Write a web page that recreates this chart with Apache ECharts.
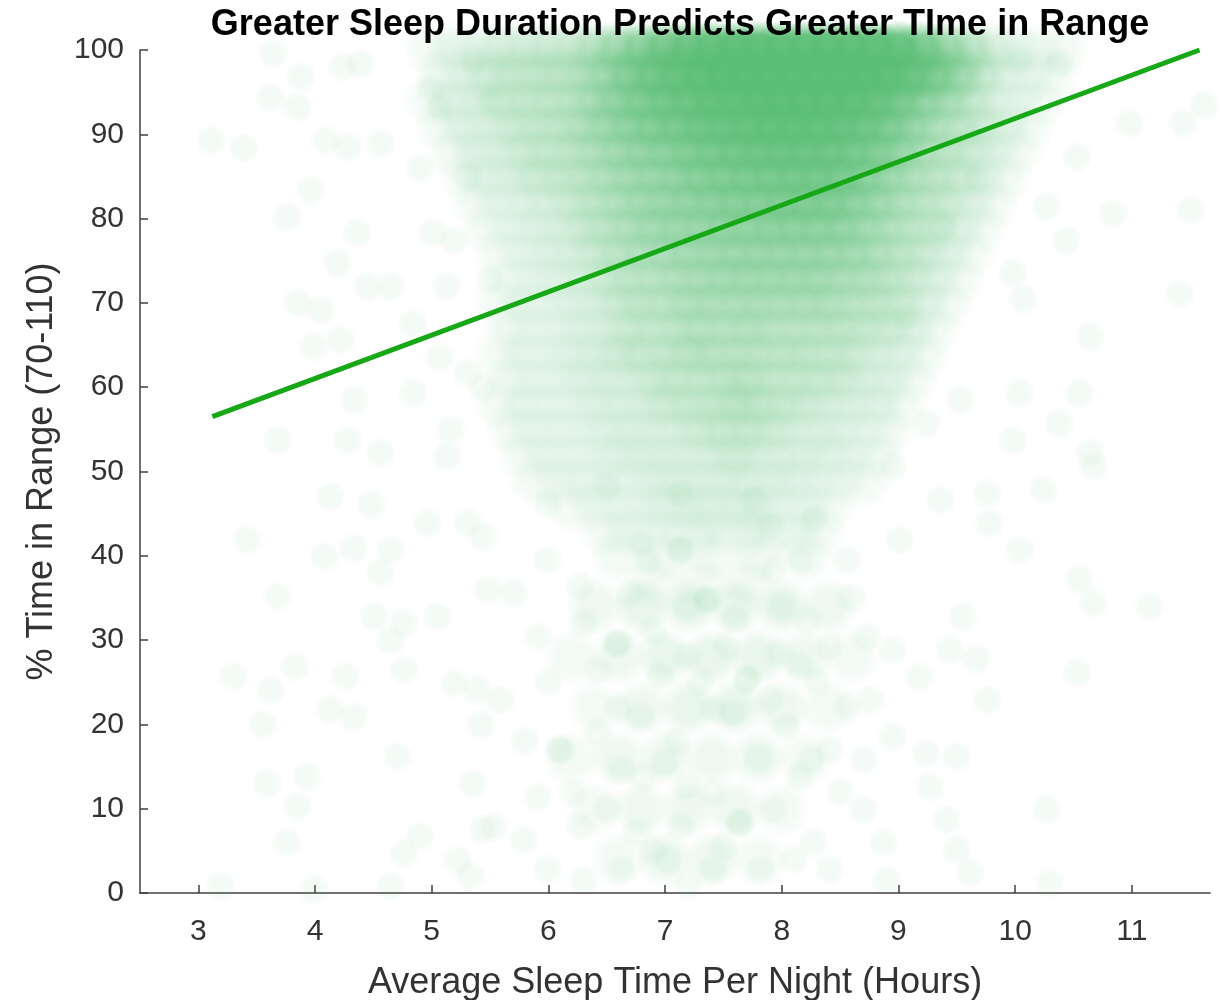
<!DOCTYPE html>
<html><head><meta charset="utf-8">
<script src="https://cdn.jsdelivr.net/npm/echarts@6/dist/echarts.min.js"></script>
<style>html,body{margin:0;padding:0;background:#fff}#chart{width:1221px;height:1000px}</style>
</head><body><div id="chart"></div>
<script>
const titleText = "Greater Sleep Duration Predicts Greater TIme in Range";
const xAxisName = "Average Sleep Time Per Night (Hours)";
const yAxisName = "% Time in Range (70-110)";
const xTickValues = [3, 4, 5, 6, 7, 8, 9, 10, 11];
const yTickValues = [0, 10, 20, 30, 40, 50, 60, 70, 80, 90, 100];

// dense cloud: [hours, % TIR, estimated number of overlapping participants]
const denseCloud = [
[5.0,100,2],[5.2,100,3],[5.4,100,3],[5.6,100,5],[5.8,100,5],[6.0,100,6],[6.2,100,6],[6.4,100,10],[6.6,100,14],[6.8,100,21],[7.0,100,30],[7.2,100,40],[7.4,100,51],[7.6,100,64],[7.8,100,64],[8.0,100,64],[8.2,100,64],[8.4,100,64],[8.6,100,64],[8.8,100,60],[9.0,100,48],[9.2,100,29],[9.4,100,16],[9.6,100,10],[9.8,100,5],[10.0,100,3],[10.2,100,2],[10.4,100,2],
[5.1,97,2],[5.3,97,3],[5.5,97,5],[5.7,97,5],[5.9,97,6],[6.1,97,6],[6.3,97,8],[6.5,97,11],[6.7,97,18],[6.9,97,26],[7.1,97,35],[7.3,97,48],[7.5,97,60],[7.7,97,64],[7.9,97,64],[8.1,97,64],[8.3,97,64],[8.5,97,64],[8.7,97,60],[8.9,97,51],[9.1,97,35],[9.3,97,21],[9.5,97,13],[9.7,97,6],[9.9,97,3],[10.1,97,2],[10.3,97,2],
[5.0,94,2],[5.2,94,3],[5.4,94,3],[5.6,94,5],[5.8,94,5],[6.0,94,6],[6.2,94,6],[6.4,94,10],[6.6,94,14],[6.8,94,19],[7.0,94,24],[7.2,94,30],[7.4,94,38],[7.6,94,45],[7.8,94,51],[8.0,94,54],[8.2,94,54],[8.4,94,51],[8.6,94,45],[8.8,94,35],[9.0,94,22],[9.2,94,14],[9.4,94,10],[9.6,94,6],[9.8,94,3],[10.0,94,2],[10.2,94,2],
[5.1,91,2],[5.3,91,3],[5.5,91,3],[5.7,91,5],[5.9,91,5],[6.1,91,6],[6.3,91,8],[6.5,91,11],[6.7,91,14],[6.9,91,18],[7.1,91,21],[7.3,91,26],[7.5,91,30],[7.7,91,35],[7.9,91,38],[8.1,91,40],[8.3,91,38],[8.5,91,34],[8.7,91,27],[8.9,91,19],[9.1,91,13],[9.3,91,8],[9.5,91,6],[9.7,91,5],[9.9,91,3],[10.1,91,2],
[5.2,88,2],[5.4,88,3],[5.6,88,3],[5.8,88,5],[6.0,88,5],[6.2,88,6],[6.4,88,8],[6.6,88,10],[6.8,88,13],[7.0,88,14],[7.2,88,18],[7.4,88,21],[7.6,88,24],[7.8,88,27],[8.0,88,29],[8.2,88,29],[8.4,88,27],[8.6,88,22],[8.8,88,18],[9.0,88,13],[9.2,88,8],[9.4,88,6],[9.6,88,5],[9.8,88,3],[10.0,88,2],
[5.3,85,2],[5.5,85,3],[5.7,85,3],[5.9,85,5],[6.1,85,5],[6.3,85,6],[6.5,85,8],[6.7,85,10],[6.9,85,11],[7.1,85,13],[7.3,85,16],[7.5,85,18],[7.7,85,19],[7.9,85,21],[8.1,85,22],[8.3,85,22],[8.5,85,21],[8.7,85,16],[8.9,85,11],[9.1,85,8],[9.3,85,6],[9.5,85,5],[9.7,85,3],[9.9,85,2],
[5.4,82,2],[5.6,82,2],[5.8,82,3],[6.0,82,3],[6.2,82,5],[6.4,82,6],[6.6,82,8],[6.8,82,10],[7.0,82,11],[7.2,82,13],[7.4,82,14],[7.6,82,16],[7.8,82,16],[8.0,82,18],[8.2,82,18],[8.4,82,18],[8.6,82,14],[8.8,82,11],[9.0,82,8],[9.2,82,6],[9.4,82,5],[9.6,82,3],[9.8,82,2],
[5.5,79,2],[5.7,79,2],[5.9,79,3],[6.1,79,3],[6.3,79,5],[6.5,79,6],[6.7,79,8],[6.9,79,10],[7.1,79,11],[7.3,79,11],[7.5,79,13],[7.7,79,13],[7.9,79,14],[8.1,79,14],[8.3,79,14],[8.5,79,13],[8.7,79,10],[8.9,79,8],[9.1,79,6],[9.3,79,5],[9.5,79,3],[9.7,79,2],
[5.6,76,2],[5.8,76,2],[6.0,76,3],[6.2,76,3],[6.4,76,5],[6.6,76,6],[6.8,76,8],[7.0,76,8],[7.2,76,10],[7.4,76,10],[7.6,76,11],[7.8,76,11],[8.0,76,11],[8.2,76,11],[8.4,76,11],[8.6,76,10],[8.8,76,8],[9.0,76,6],[9.2,76,5],[9.4,76,3],[9.6,76,2],
[5.7,73,2],[5.9,73,2],[6.1,73,3],[6.3,73,3],[6.5,73,5],[6.7,73,6],[6.9,73,6],[7.1,73,8],[7.3,73,8],[7.5,73,10],[7.7,73,10],[7.9,73,10],[8.1,73,10],[8.3,73,10],[8.5,73,8],[8.7,73,8],[8.9,73,6],[9.1,73,5],[9.3,73,3],[9.5,73,2],
[5.6,70,2],[5.8,70,2],[6.0,70,2],[6.2,70,3],[6.4,70,3],[6.6,70,5],[6.8,70,6],[7.0,70,6],[7.2,70,8],[7.4,70,8],[7.6,70,8],[7.8,70,8],[8.0,70,8],[8.2,70,8],[8.4,70,8],[8.6,70,6],[8.8,70,6],[9.0,70,5],[9.2,70,3],[9.4,70,2],
[5.7,67,2],[5.9,67,2],[6.1,67,2],[6.3,67,3],[6.5,67,3],[6.7,67,5],[6.9,67,5],[7.1,67,6],[7.3,67,7],[7.5,67,6],[7.7,67,8],[7.9,67,6],[8.1,67,6],[8.3,67,6],[8.5,67,6],[8.7,67,5],[8.9,67,5],[9.1,67,3],[9.3,67,2],
[5.6,64,2],[5.8,64,2],[6.0,64,2],[6.2,64,3],[6.4,64,3],[6.6,64,5],[6.8,64,5],[7.0,64,5],[7.2,64,7],[7.4,64,7],[7.6,64,6],[7.8,64,6],[8.0,64,6],[8.2,64,6],[8.4,64,5],[8.6,64,5],[8.8,64,3],[9.0,64,3],[9.2,64,2],
[5.7,61,2],[5.9,61,2],[6.1,61,2],[6.3,61,3],[6.5,61,3],[6.7,61,3],[6.9,61,5],[7.1,61,5],[7.3,61,5],[7.5,61,6],[7.7,61,7],[7.9,61,5],[8.1,61,5],[8.3,61,5],[8.5,61,5],[8.7,61,3],[8.9,61,3],[9.1,61,2],
[5.6,58,2],[5.8,58,2],[6.0,58,2],[6.2,58,2],[6.4,58,3],[6.6,58,3],[6.8,58,3],[7.0,58,5],[7.2,58,5],[7.4,58,5],[7.6,58,7],[7.8,58,6],[8.0,58,5],[8.2,58,5],[8.4,58,3],[8.6,58,3],[8.8,58,3],[9.0,58,2],
[5.7,55,2],[5.9,55,2],[6.1,55,2],[6.3,55,2],[6.5,55,3],[6.7,55,3],[6.9,55,3],[7.1,55,3],[7.3,55,5],[7.5,55,5],[7.7,55,5],[7.9,55,5],[8.1,55,3],[8.3,55,3],[8.5,55,3],[8.7,55,2],[8.9,55,2],
[5.8,52,2],[6.0,52,2],[6.2,52,2],[6.4,52,2],[6.6,52,3],[6.8,52,3],[7.0,52,3],[7.2,52,3],[7.4,52,3],[7.6,52,5],[7.8,52,3],[8.0,52,3],[8.2,52,3],[8.4,52,3],[8.6,52,2],[8.8,52,2],
[5.9,49,2],[6.1,49,2],[6.3,49,2],[6.5,49,2],[6.7,49,2],[6.9,49,3],[7.1,49,3],[7.3,49,3],[7.5,49,3],[7.7,49,3],[7.9,49,3],[8.1,49,3],[8.3,49,2],[8.5,49,2],[8.7,49,2],
[6.2,46,2],[6.4,46,2],[6.6,46,2],[6.8,46,2],[7.0,46,3],[7.2,46,3],[7.4,46,3],[7.6,46,3],[7.8,46,3],[8.0,46,2],[8.2,46,2],[8.4,46,2],
[6.5,43,2],[6.7,43,2],[6.9,43,2],[7.1,43,2],[7.3,43,3],[7.5,43,2],[7.7,43,3],[7.9,43,2],[8.1,43,2],[8.3,43,2],
[6.6,40,2],[7.0,40,2],[7.4,40,2],[7.8,40,2],[8.2,40,2],
[6.9,37,2],[7.3,37,2],[7.7,37,2],
[6.4,34,3],[6.8,34,4],[7.2,34,4],[7.6,34,4],[8.0,34,4],[8.4,34,3],
[6.2,28,2],[6.6,28,3],[7.0,28,4],[7.4,28,4],[7.8,28,4],[8.2,28,3],[8.6,28,2],
[6.4,22,2],[6.8,22,3],[7.2,22,4],[7.6,22,4],[8.0,22,3],[8.4,22,2],
[6.2,16,2],[6.6,16,3],[7.0,16,3],[7.4,16,3],[7.8,16,3],[8.2,16,2],
[6.4,10,2],[6.8,10,3],[7.2,10,3],[7.6,10,3],[8.0,10,2],
[6.6,4,2],[7.0,4,3],[7.4,4,3],[7.8,4,2]
];

// individually visible participants: [hours, % TIR] (optional third value = overlaps)
const sparsePoints = [
[3.64,99.6],[3.88,96.8],[3.62,94.4],[3.85,93.2],[3.11,89.3],[3.39,88.4],[4.09,89.3],[4.28,88.5],[4.56,88.9],[4.24,98],[4.39,98.4],[4.99,95.3],[5.07,93.2],[5.31,85],[4.9,86],[3.96,83.4],[3.76,80.2],[4.36,78.3],[4.19,74.7],[4.45,71.9],[4.65,71.9],[3.85,70],[4.05,69.1],[3.99,64.8],[4.22,65.6],[4.84,67.6],[5.13,71.9],[5.07,63.6],[5.31,61.7],[5.5,72.7],[5.01,78.3],[5.19,77.4],[3.68,53.7],[4.28,53.7],[4.56,52.2],[4.84,59.3],[4.33,58.5],[5.16,54.9],[5.44,60],[5.13,51.8],[5.36,98.8],[5.5,94],
[3.42,41.9],[3.68,35.2],[4.13,47],[4.48,46],[4.08,39.9],[4.33,40.9],[4.65,40.7],[4.56,38],[4.96,43.9],[5.31,43.9],[5.44,42.3],[5.48,36],[4.51,32.8],[4.76,32],[5.05,32.8],[4.65,30],[4.76,26.5],[3.3,25.7],[3.62,24.1],[3.83,26.8],[4.26,25.7],[4.13,21.8],[4.33,20.9],[3.55,20],[5.19,24.9],[5.39,24.1],[5.42,20],[4.71,16.2],[3.59,13],[3.93,13.8],[3.85,10.3],[3.76,6],[5.35,13],[4.9,6.7],[4.76,4.7],[5.22,3.9],[5.44,7.5],[3.19,0.8],[4.65,0.8],[3.99,0.4],[5.33,2],
[8.95,50.6],[9.76,47.4],[10.24,47.8],[10.67,50.6],[9.36,46.6],[9.01,41.9],[9.78,43.9],[10.04,40.7],[10.55,37.2],[10.67,34.4],[11.15,34],[9.55,32.8],[9.44,28.8],[9.67,27.7],[9.18,25.7],[8.95,28.8],[9.76,22.9],[10.53,26.1],[9.24,16.6],[9.5,16.2],[9.27,12.6],[9.41,8.7],[10.27,9.9],[9.5,5.1],[9.61,2.4],[10.3,1.2],[8.87,6],[8.76,22.9],
[10.38,98.4],[10.04,98.8],[10.53,87.3],[10.27,81.4],[10.84,80.6],[11.5,81],[10.44,77.4],[10.98,91.3],[11.44,91.3],[11.62,93.5],[11.41,71.1],[10.64,66],[10.55,59.3],[10.04,59.3],[10.38,55.7],[9.98,53.7],[10.64,52.2],[9.67,84.6],[10.07,70.4],[9.98,73.5],[9.38,79],[9.53,58.5],[9.07,68.4],[9.24,55.7],
[5.91,30.4],[6.1,17,2],[6.27,7.9],[6.59,29.6,2],[6.79,41.5],[7.13,40.7,2],[7.19,34],[7.36,34.8,2],[7.7,25.3,2],[7.58,21.4],[8.22,32.4],[8.56,22.1],[8.25,15.8],[7.64,8.3,2],[7.13,7.9],[6.81,13.8],[5.91,11.4],[5.53,7.9],[5.59,22.9],[8.7,9.9],[8.27,6],[6.62,2.8],[7.82,2.8],[7.41,2.8],[8.16,13.8],[7.9,43.5],[7.76,46.6],[8.27,44.3],[7.13,47.4],[6.5,48.2],[5.99,46.2],[5.7,35.6],[6.27,36.4],[6.42,26.5],[6.96,25.7],[7.98,28.5],[8.41,29.3],[8.73,30.4],[6.42,19],[6.62,14.6],[7.19,12.6],[8.41,17],[5.79,6.3],[5.99,2.8],[8.41,2.8],[7.02,3.9],[7.41,11.9],[7.93,9.9],[6.21,11.9],[6.76,7.1],[7.53,29.2],[7.19,28],[7.93,38.3],[8.16,39.5],[8.56,39.5],[6.85,39.5],[5.99,39.5],[7.41,21.8],[6.79,20.9],[8.04,19.7],[8.7,15.8],
[6.3,32],[6.9,31],[7.6,32.5],[8.0,34],[6.6,22],[7.1,18],[7.9,23],[8.3,25],[6.0,25],[6.5,10],[7.0,15.5],[7.8,16],[8.5,12],[6.9,5],[7.5,5.5],[8.1,4],[6.3,1.5],[7.2,1],[8.9,1.5],[6.7,35.5],[8.6,35],[5.8,18],[8.95,18.5],[7.3,25],[8.15,27]
];

// least-squares trend line end points: [hours, % TIR]
const trendLine = [[3.12, 56.5], [11.58, 100]];

const FONT = "'Liberation Sans', Arial, Helvetica, sans-serif";
const toItems = (arr, perParticipant) => arr.map(p => ({
  value: [p[0], p[1]],
  itemStyle: { opacity: 1 - Math.pow(1 - perParticipant, p[2] || 1) }
}));

const G = 'rgba(91,190,117,';
const discFill = new echarts.graphic.RadialGradient(0.5, 0.5, 0.5, [
  { offset: 0, color: G + '1)' }, { offset: 0.62, color: G + '1)' }, { offset: 1, color: G + '0)' }
]);
const cloudFill = new echarts.graphic.RadialGradient(0.5, 0.5, 0.5, [
  { offset: 0, color: G + '1)' }, { offset: 0.5, color: G + '1)' }, { offset: 1, color: G + '0)' }
]);

const chart = echarts.init(document.getElementById('chart'), null, { renderer: 'canvas' });
chart.setOption({
  animation: false,
  backgroundColor: '#ffffff',
  title: {
    text: titleText, left: 675, top: 2, textAlign: 'center',
    textStyle: { fontFamily: FONT, fontSize: 36, fontWeight: 'bold', color: '#000' }
  },
  grid: { left: 140, right: 11, top: 50, bottom: 107, containLabel: false, outerBoundsMode: 'none' },
  xAxis: {
    type: 'value', min: 2.5, max: 11.67,
    name: xAxisName, nameLocation: 'middle', nameGap: 72,
    nameTextStyle: { fontFamily: FONT, fontSize: 36, color: '#333' },
    axisLine: { show: true, onZero: false, lineStyle: { color: '#404040', width: 1.5 } },
    axisTick: { show: true, inside: true, length: 8, customValues: xTickValues, lineStyle: { color: '#404040', width: 1.5 } },
    axisLabel: { customValues: xTickValues, margin: 24, fontFamily: FONT, fontSize: 30, color: '#333' },
    splitLine: { show: false }
  },
  yAxis: {
    type: 'value', min: 0, max: 100, interval: 10,
    name: yAxisName, nameLocation: 'middle', nameGap: 80, nameRotate: 90,
    nameTextStyle: { fontFamily: FONT, fontSize: 36, color: '#333' },
    axisLine: { show: true, lineStyle: { color: '#404040', width: 1.5 } },
    axisTick: { show: true, inside: true, length: 8, lineStyle: { color: '#404040', width: 1.5 } },
    axisLabel: { margin: 16, fontFamily: FONT, fontSize: 30, color: '#333',
      formatter: v => (yTickValues.indexOf(v) >= 0 ? String(v) : '') },
    splitLine: { show: false }
  },
  series: [
    {
      type: 'scatter', name: 'Participants (dense)', data: toItems(denseCloud, 0.035),
      symbol: 'circle', symbolSize: 60, silent: true,
      itemStyle: { color: cloudFill }, z: 2
    },
    {
      type: 'scatter', name: 'Participants', data: toItems(sparsePoints, 0.065),
      symbol: 'circle', symbolSize: 33, silent: true,
      itemStyle: { color: discFill }, z: 3
    },
    {
      type: 'line', name: 'Trend', data: trendLine, symbol: 'none', silent: true,
      lineStyle: { color: '#16a816', width: 5 }, z: 5
    }
  ]
});
</script>
</body></html>
